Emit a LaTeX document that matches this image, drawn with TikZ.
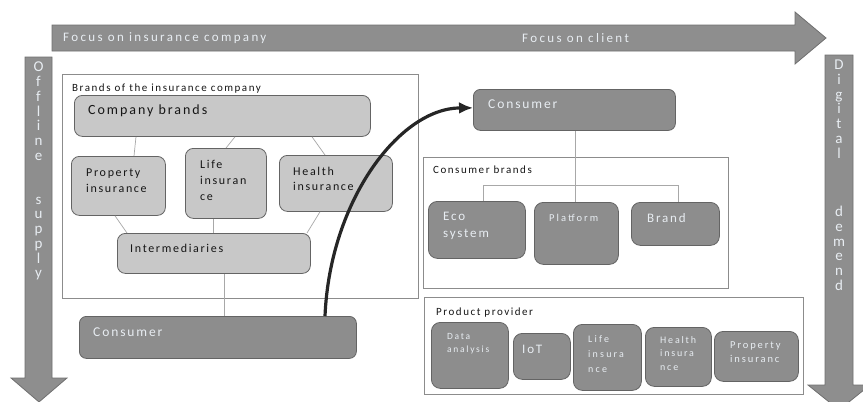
\documentclass[tikz,border=0pt]{standalone}
\usepackage{fontspec}
\setmainfont{Carlito}[LetterSpace=14]
\usetikzlibrary{arrows.meta,positioning}

\definecolor{arrowgray}{HTML}{8E8E8E}
\definecolor{arrowedge}{HTML}{6F6F6F}
\definecolor{lightfill}{HTML}{C8C8C8}
\definecolor{darkfill}{HTML}{8D8D8D}
\definecolor{boxedge}{HTML}{646464}
\definecolor{framegray}{HTML}{8C8C8C}
\definecolor{linkgray}{HTML}{A8A8A8}
\definecolor{paletext}{HTML}{E8EDF2}
\definecolor{inktext}{HTML}{161616}

\tikzset{
	bigarrow/.style={fill=arrowgray, draw=arrowedge, line width=0.8pt},
	arrowtext/.style={text=paletext, inner sep=0pt, font=\fontsize{13}{14}\selectfont\addfontfeatures{LetterSpace=18}},
	vletters/.style={text=paletext, inner sep=0pt, anchor=north, align=center, font=\fontsize{15}{14.7}\selectfont\addfontfeatures{LetterSpace=0}},
	group/.style={draw=framegray, fill=white, line width=0.8pt, anchor=north west, inner sep=0pt},
	lightbox/.style={draw=boxedge, fill=lightfill, line width=0.8pt, rounded corners=8pt, anchor=north west, inner sep=0pt},
	darkbox/.style={draw=boxedge, fill=darkfill, line width=0.8pt, rounded corners=7pt, anchor=north west, inner sep=0pt},
	inklbl/.style={text=inktext, inner sep=0pt, align=left},
	palelbl/.style={text=paletext, inner sep=0pt, align=left},
	link/.style={draw=linkgray, line width=0.7pt},
	moveline/.style={draw=black!85, line width=3.2pt, -{Latex[length=14pt,width=12pt]}}
}

\begin{document}
\begin{tikzpicture}[x=1pt, y=-1pt]
	\useasboundingbox (0,0) rectangle (863,402);

	\path[bigarrow] (52,25) -- (795,25) -- (795,12) -- (826,38) -- (795,64) -- (795,51) -- (52,51) -- cycle;
	\path[bigarrow] (25,57) -- (52,57) -- (52,378) -- (67,378) -- (39,402) -- (11,378) -- (25,378) -- cycle;
	\path[bigarrow] (825,55) -- (853,55) -- (853,385) -- (870,385) -- (839,410) -- (808,385) -- (825,385) -- cycle;

	\node[arrowtext, anchor=west] (focuscomp) at (63,38) {Focus on insurance company};
	\node[arrowtext, anchor=west] (focusclient) at (522,38) {Focus on client};
	\node[vletters] (offline) at (38.5,62) {O\\f\\f\\l\\i\\n\\e\\[29.4pt]s\\u\\p\\p\\l\\y};
	\node[vletters] (digital) at (839,60) {D\\i\\g\\i\\t\\a\\l\\[44.1pt]d\\e\\m\\e\\n\\d};

	\node[group, minimum width=356pt, minimum height=224pt] (brandsgrp) at (62,74) {};
	\node[group, minimum width=305pt, minimum height=131pt] (cbgrp) at (423,157) {};
	\node[group, minimum width=379pt, minimum height=97pt] (ppgrp) at (424,297) {};

	\node[inklbl, font=\fontsize{11}{13}\selectfont, below right=9.6pt and 10pt of brandsgrp.north west] (brandsttl) {Brands of the insurance company};
	\node[inklbl, font=\fontsize{11}{13}\selectfont, below right=8.6pt and 10pt of cbgrp.north west] (cbttl) {Consumer brands};
	\node[inklbl, font=\fontsize{11}{13}\selectfont, below right=10.6pt and 12pt of ppgrp.north west] (ppttl) {Product provider};

	\node[lightbox, minimum width=296pt, minimum height=41pt] (compbr) at (74,95) {};
	\node[lightbox, minimum width=94pt, minimum height=59pt] (propins) at (71,156) {};
	\node[lightbox, minimum width=81pt, minimum height=70pt] (lifeins) at (185,148) {};
	\node[lightbox, minimum width=113pt, minimum height=56pt] (healthins) at (279,155) {};
	\node[lightbox, minimum width=193pt, minimum height=40pt] (interm) at (117,233) {};
	\node[darkbox, minimum width=277pt, minimum height=42pt] (consL) at (79,316) {};

	\node[inklbl, font=\fontsize{14}{16}\selectfont, below right=9.4pt and 14pt of compbr.north west] (compbrt) {Company brands};
	\node[inklbl, font=\fontsize{12}{16}\selectfont, below right=12.2pt and 15pt of propins.north west] (propinst) {Property\\insurance};
	\node[inklbl, font=\fontsize{12}{16}\selectfont, below right=12.2pt and 15pt of lifeins.north west] (lifeinst) {Life\\insuran\\ce};
	\node[inklbl, font=\fontsize{12}{15}\selectfont, below right=12.2pt and 14pt of healthins.north west] (healthinst) {Health\\insurance};
	\node[inklbl, font=\fontsize{12}{14}\selectfont, below right=11.2pt and 13pt of interm.north west] (intermt) {Intermediaries};
	\node[palelbl, font=\fontsize{13.5}{15}\selectfont, below right=11.5pt and 14pt of consL.north west] (consLt) {Consumer};

	\node[darkbox, minimum width=202pt, minimum height=41pt] (consR) at (473,89) {};
	\node[darkbox, rounded corners=9pt, minimum width=97pt, minimum height=57pt] (eco) at (428,201) {};
	\node[darkbox, rounded corners=9pt, minimum width=84pt, minimum height=62pt] (platf) at (534,202) {};
	\node[darkbox, rounded corners=9pt, minimum width=88pt, minimum height=43pt] (brand) at (631,202) {};

	\node[palelbl, font=\fontsize{13.5}{15}\selectfont, below right=10.5pt and 15pt of consR.north west] (consRt) {Consumer};
	\node[palelbl, font=\fontsize{13}{17}\selectfont, below right=10.8pt and 15pt of eco.north west] (ecot) {Eco\\system};
	\node[palelbl, font=\fontsize{10.5}{12}\selectfont\addfontfeatures{LetterSpace=20}, below right=11.8pt and 15pt of platf.north west] (platft) {Platform};
	\node[palelbl, font=\fontsize{13}{15}\selectfont, below right=10.8pt and 16pt of brand.north west] (brandt) {Brand};

	\node[darkbox, rounded corners=9pt, minimum width=77pt, minimum height=66pt] (data) at (431,322) {};
	\node[darkbox, rounded corners=9pt, minimum width=57pt, minimum height=46pt] (iot) at (513,333) {};
	\node[darkbox, rounded corners=9pt, minimum width=68pt, minimum height=66pt] (lifep) at (573,324) {};
	\node[darkbox, rounded corners=9pt, minimum width=66pt, minimum height=59pt] (healthp) at (645,327) {};
	\node[darkbox, rounded corners=9pt, minimum width=84pt, minimum height=50pt] (propp) at (714,331) {};

	\node[palelbl, font=\fontsize{9.5}{13}\selectfont\addfontfeatures{LetterSpace=18}, below right=11.2pt and 16pt of data.north west] (datat) {Data\\analysis};
	\node[palelbl, font=\fontsize{13}{15}\selectfont, below right=11.8pt and 9pt of iot.north west] (iott) {IoT};
	\node[palelbl, font=\fontsize{10}{15}\selectfont\addfontfeatures{LetterSpace=22}, below right=11pt and 15pt of lifep.north west] (lifept) {Life\\insura\\nce};
	\node[palelbl, font=\fontsize{10}{13.5}\selectfont\addfontfeatures{LetterSpace=18}, below right=9pt and 15pt of healthp.north west] (healthpt) {Health\\insura\\nce};
	\node[palelbl, font=\fontsize{10.5}{14}\selectfont\addfontfeatures{LetterSpace=18}, below right=10.8pt and 16pt of propp.north west] (proppt) {Property\\insuranc};

	\path[link] ([xshift=62pt]compbr.south west) -- ([xshift=63pt]propins.north west);
	\path[link] ([xshift=161pt]compbr.south west) -- ([xshift=41pt]lifeins.north west);
	\path[link] ([xshift=238pt]compbr.south west) -- ([xshift=46pt]healthins.north west);
	\path[link] ([xshift=44pt]propins.south west) -- ([xshift=10pt]interm.north west);
	\path[link] ([xshift=28pt]lifeins.south west) -- ([xshift=96pt]interm.north west);
	\path[link] ([xshift=41pt]healthins.south west) -- ([xshift=190pt]interm.north west);
	\path[link] ([xshift=107pt]interm.south west) -- ([xshift=145pt]consL.north west);
	\path[link] ([xshift=102pt]consR.south west) -- ([xshift=41pt]platf.north west);
	\path[link] ([xshift=55pt]eco.north west) -- ++(0,-16) -| ([xshift=47pt]brand.north west);

	\draw[moveline] ([xshift=246pt]consL.north west) .. controls (330,200) and (400,108) .. ([yshift=2pt]consR.west);
\end{tikzpicture}
\end{document}
